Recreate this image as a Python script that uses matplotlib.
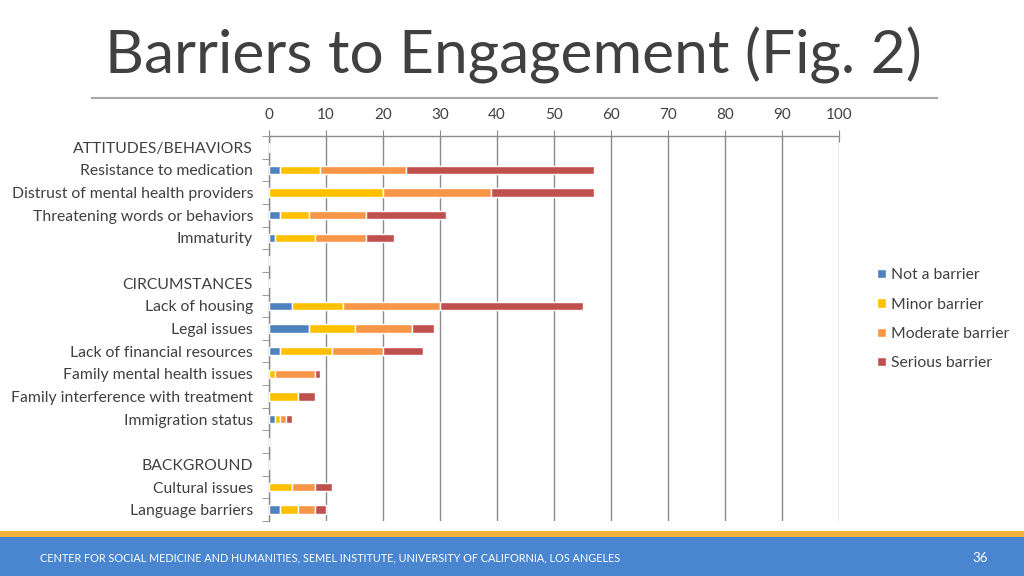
import matplotlib.pyplot as plt
from matplotlib.patches import Rectangle
from matplotlib.lines import Line2D
import numpy as np

# データ
categories = [
    "ATTITUDES/BEHAVIORS",
    "Resistance to medication",
    "Distrust of mental health providers",
    "Threatening words or behaviors",
    "Immaturity",
    "",
    "CIRCUMSTANCES",
    "Lack of housing",
    "Legal issues",
    "Lack of financial resources",
    "Family mental health issues",
    "Family interference with treatment",
    "Immigration status",
    " ",
    "BACKGROUND",
    "Cultural issues",
    "Language barriers",
]
not_barrier = [0, 2, 0, 2, 1, 0, 0, 4, 7, 2, 0, 0, 1, 0, 0, 0, 2]
minor_barrier = [0, 7, 20, 5, 7, 0, 0, 9, 8, 9, 1, 5, 1, 0, 0, 4, 3]
moderate_barrier = [0, 15, 19, 10, 9, 0, 0, 17, 10, 9, 7, 0, 1, 0, 0, 4, 3]
serious_barrier = [0, 33, 18, 14, 5, 0, 0, 25, 4, 7, 1, 3, 1, 0, 0, 3, 2]
series_names = ["Not a barrier", "Minor barrier", "Moderate barrier", "Serious barrier"]
x_ticks = [0, 10, 20, 30, 40, 50, 60, 70, 80, 90, 100]

COLORS = ["#4f81bd", "#ffc000", "#f79646", "#c0504d"]
TEXT = "#404040"
GRID = "#8c8c8c"
FONT = "Lato"

fig = plt.figure(figsize=(10.24, 5.76), dpi=100)
ax = fig.add_axes([269 / 1024, 1 - 521 / 576, 570 / 1024, 385 / 576])

y = np.arange(len(categories))
left = np.zeros(len(categories))
for vals, col, name in zip([not_barrier, minor_barrier, moderate_barrier, serious_barrier],
                           COLORS, series_names):
    vals = np.array(vals, dtype=float)
    ax.barh(y, vals, left=left, height=0.37, color=col, edgecolor="white",
            linewidth=1.0, label=name, zorder=3)
    left += vals

ax.set_ylim(len(categories) - 0.5, -0.5)
ax.set_xlim(0, 100)
ax.set_yticks(y)
ax.set_yticklabels(categories, fontsize=11.3, color=TEXT, family=FONT)
ax.set_yticks(np.arange(len(categories) + 1) - 0.5, minor=True)
ax.tick_params(axis="y", which="major", length=0, pad=11.5)
ax.tick_params(axis="y", which="minor", length=5, color=GRID, direction="out")

ax.set_xticks(x_ticks)
ax.xaxis.tick_top()
ax.tick_params(axis="x", which="major", top=True, bottom=False, length=8,
               direction="inout", color=GRID, labelsize=11, labelcolor=TEXT, pad=6)
for lab in ax.get_xticklabels():
    lab.set_family(FONT)
ax.grid(axis="x", color=GRID, linewidth=1.0, zorder=0)

for s in ["right", "bottom"]:
    ax.spines[s].set_visible(False)
for s in ["left", "top"]:
    ax.spines[s].set_color(GRID)
    ax.spines[s].set_linewidth(1.0)

# 凡例
fig.legend(loc="upper left", bbox_to_anchor=(863 / 1024, 1 - 254 / 576), frameon=False,
           handlelength=0.55, handleheight=0.55, handletextpad=0.35, labelspacing=0.98,
           prop={"family": FONT, "size": 11.3}, labelcolor=TEXT)

# タイトル
fig.text(105 / 1024, 1 - 74 / 576, "Barriers to Engagement (Fig. 2)", fontsize=43.5,
         color=TEXT, family=FONT, va="baseline", ha="left")
fig.add_artist(Line2D([92 / 1024, 937 / 1024], [1 - 98 / 576] * 2, color="#a6a6a6",
                      linewidth=1.5, transform=fig.transFigure))

# フッター
fig.add_artist(Rectangle((0, 0), 1, 39 / 576, transform=fig.transFigure,
                         facecolor="#4a86d0", edgecolor="none"))
fig.add_artist(Rectangle((0, 39 / 576), 1, 6 / 576, transform=fig.transFigure,
                         facecolor="#f2b33d", edgecolor="none"))
fig.text(40 / 1024, 1 - 558 / 576,
         "CENTER FOR SOCIAL MEDICINE AND HUMANITIES, SEMEL INSTITUTE, UNIVERSITY OF CALIFORNIA, LOS ANGELES",
         fontsize=7.8, color="white", family=FONT, va="center", ha="left")
fig.text(980 / 1024, 1 - 558 / 576, "36", fontsize=9.5, color="white", family=FONT,
         va="center", ha="center")

fig.savefig("out.png", dpi=100)
